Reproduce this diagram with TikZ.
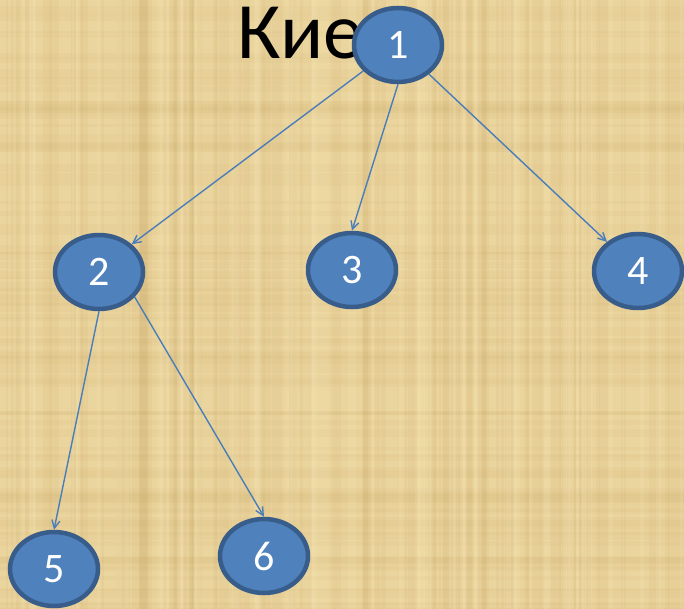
\documentclass[tikz,border=0pt]{standalone}
\usepackage{fontspec}
\setmainfont{Carlito}
\usetikzlibrary{arrows.meta,shapes.geometric}
\definecolor{papyrus}{HTML}{EBD59E}
\definecolor{papdark}{HTML}{C9A865}
\definecolor{paplight}{HTML}{F7E6B8}
\definecolor{nodefill}{HTML}{4F81BD}
\definecolor{nodeborder}{HTML}{385D8A}
\definecolor{edgecol}{HTML}{4A7EBB}
\tikzset{
  vert/.style={ellipse, draw=nodeborder, fill=nodefill, line width=4.5pt,
    minimum width=88pt, minimum height=74pt, inner sep=0pt,
    text=white, font=\fontsize{42}{42}\selectfont},
  edge/.style={draw=edgecol, line width=1.4pt, -{Straight Barb[length=8pt,width=8pt,line width=1.4pt]}}
}
\begin{document}
\begin{tikzpicture}[x=1pt,y=-1pt]
\fill[papyrus] (0,0) rectangle (684,609);
\useasboundingbox (0,0) rectangle (684,609);
\pgfmathsetseed{17}
\foreach \i in {1,...,90}{
  \pgfmathsetmacro{\xx}{rnd*684}
  \pgfmathsetmacro{\ww}{2+rnd*8}
  \fill[papdark, opacity=0.10] (\xx,0) rectangle ++(\ww,609);
}
\foreach \i in {1,...,90}{
  \pgfmathsetmacro{\yy}{rnd*609}
  \pgfmathsetmacro{\hh}{2+rnd*8}
  \fill[papdark, opacity=0.08] (0,\yy) rectangle ++(684,\hh);
}
\foreach \i in {1,...,60}{
  \pgfmathsetmacro{\xx}{rnd*684}
  \pgfmathsetmacro{\ww}{2+rnd*6}
  \fill[paplight, opacity=0.18] (\xx,0) rectangle ++(\ww,609);
}
\node[anchor=base west, font=\fontsize{80}{80}\selectfont, inner sep=0pt] (title) at (237,59) {Киев};
\node[vert] (n1) at (398,45) {1};
\node[vert] (n2) at (99,272) {2};
\node[vert] (n3) at (352,270) {3};
\node[vert] (n4) at (638,271) {4};
\node[vert] (n5) at (54,569) {5};
\node[vert] (n6) at (264,556) {6};
\draw[edge] (n1) -- (n2.north east);
\draw[edge] (n1.south) -- (n3.north);
\draw[edge] (n1) -- (n4);
\draw[edge] (n2.south) -- (n5.north);
\draw[edge] (n2.-35) -- (n6.north);
\end{tikzpicture}
\end{document}
